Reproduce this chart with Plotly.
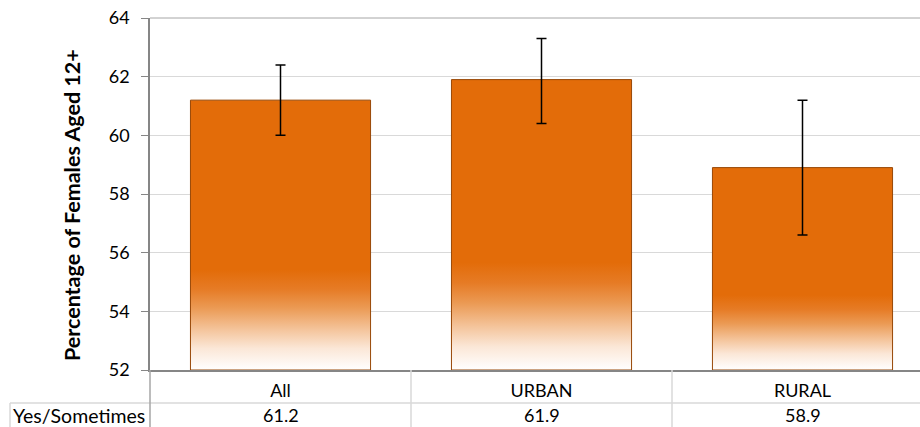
import plotly.graph_objects as go

categories = ["All", "URBAN", "RURAL"]
values = [61.2, 61.9, 58.9]
err_plus = [1.2, 1.4, 2.3]
err_minus = [1.2, 1.5, 2.3]
row_label = "Yes/Sometimes"
y_ticks = [52, 54, 56, 58, 60, 62, 64]

Y_MIN, Y_MAX = 52, 64
BAR_W = 0.69
ORANGE = "#E36C09"
EDGE = "#984807"
FONT = "Lato, 'Open Sans', sans-serif"

W, H = 920, 427
ML, MR, MT, MB = 150, 0, 18, 57
plot_w = W - ML - MR
plot_h = H - MT - MB
cat_px = 261.0
x_hi = -0.5 + plot_w / cat_px

fig = go.Figure()

grad = [[0.0, "#ffffff"], [0.08, "#fbe7d7"], [0.15, "#f4c49b"],
        [0.23, "#eb9a54"], [0.3, "#e67b25"], [0.37, ORANGE], [1.0, ORANGE]]

for i, (c, v) in enumerate(zip(categories, values)):
    x0, x1 = i - BAR_W / 2, i + BAR_W / 2
    fig.add_trace(go.Scatter(
        x=[x0, x1, x1, x0, x0], y=[Y_MIN, Y_MIN, v, v, Y_MIN],
        mode="lines", fill="toself",
        fillgradient=dict(type="vertical", colorscale=grad),
        line=dict(color=EDGE, width=1),
        hoverinfo="skip", showlegend=False,
    ))

fig.add_trace(go.Scatter(
    x=list(range(len(categories))), y=values, mode="markers",
    marker=dict(size=1, color="rgba(0,0,0,0)"),
    error_y=dict(type="data", symmetric=False, array=err_plus, arrayminus=err_minus,
                 color="black", thickness=1.5, width=5),
    showlegend=False, hoverinfo="skip",
))

fig.update_layout(
    width=W, height=H,
    margin=dict(l=ML, r=MR, t=MT, b=MB, autoexpand=False),
    paper_bgcolor="white", plot_bgcolor="white",
    font=dict(family=FONT, size=18, color="black"),
    showlegend=False,
)

fig.update_xaxes(
    range=[-0.5, x_hi], tickmode="array",
    tickvals=list(range(len(categories))), ticktext=categories,
    showgrid=False, zeroline=False, showline=True, linecolor="#868686", linewidth=1.5,
    ticks="", tickfont=dict(size=18), ticklabelstandoff=4,
)
fig.update_yaxes(
    range=[Y_MIN, Y_MAX], tickmode="array", tickvals=y_ticks,
    showgrid=True, gridcolor="#d9d9d9", gridwidth=1, zeroline=False,
    showline=True, linecolor="#868686", linewidth=1.5,
    ticks="outside", ticklen=7, tickcolor="#868686",
    tickfont=dict(size=18), ticklabelstandoff=8,
)

def py(px):
    return (H - MB - px) / plot_h

def pxx(px):
    return (px - ML) / plot_w

shapes = []
shapes.append(dict(type="line", xref="paper", yref="paper", x0=0, x1=1, y0=1, y1=1,
                   line=dict(color="#a6a6a6", width=1)))
shapes.append(dict(type="line", xref="paper", yref="paper", x0=pxx(10), x1=1,
                   y0=py(403), y1=py(403), line=dict(color="#d9d9d9", width=1.5)))
shapes.append(dict(type="line", xref="paper", yref="paper", x0=pxx(10), x1=pxx(10),
                   y0=py(403), y1=py(430), line=dict(color="#d9d9d9", width=1.5)))
shapes.append(dict(type="line", xref="paper", yref="paper", x0=0, x1=0,
                   y0=0, y1=py(430), line=dict(color="#a6a6a6", width=1.5)))
for i in range(1, len(categories)):
    shapes.append(dict(type="line", xref="x", yref="paper", x0=i - 0.5, x1=i - 0.5,
                       y0=0, y1=py(430), line=dict(color="#d9d9d9", width=1.5)))
fig.update_layout(shapes=shapes)

ann = []
ann.append(dict(text=row_label, xref="paper", yref="paper", x=pxx(11), y=py(415),
                xanchor="left", yanchor="middle", showarrow=False, font=dict(size=19.5)))
for i, v in enumerate(values):
    ann.append(dict(text=f"{v:.1f}", xref="x", yref="paper", x=i, y=py(415),
                    xanchor="center", yanchor="middle", showarrow=False, font=dict(size=18)))
ann.append(dict(text="<b>Percentage of Females Aged 12+</b>", xref="paper", yref="paper",
                x=pxx(72), y=py(205), textangle=-90, xanchor="center", yanchor="middle",
                showarrow=False, font=dict(size=21.5)))
fig.update_layout(annotations=ann)

fig.write_html("out.html", config={"displayModeBar": False},
               post_script="document.body.style.margin='0';document.body.style.overflow='hidden';")
